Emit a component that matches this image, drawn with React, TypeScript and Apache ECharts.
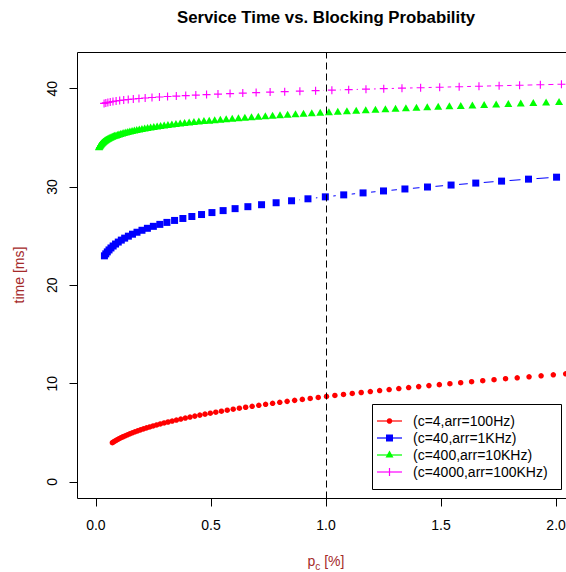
import React, { useEffect, useRef } from "react";
import * as echarts from "echarts";

// Service time (ms) against blocking probability p_c (%) for four server / arrival configurations.
const c4Time = [4.0, 4.1, 4.2, 4.3, 4.4, 4.5, 4.6, 4.7, 4.8, 4.9, 5.0, 5.1, 5.2, 5.3, 5.4, 5.5, 5.6, 5.7, 5.8, 5.9, 6.0, 6.1, 6.2, 6.3, 6.4, 6.5, 6.6, 6.7, 6.8, 6.9, 7.0, 7.1, 7.2, 7.3, 7.4, 7.5, 7.6, 7.7, 7.8, 7.9, 8.0, 8.1, 8.2, 8.3, 8.4, 8.5, 8.6, 8.7, 8.8, 8.9, 9.0, 9.1, 9.2, 9.3, 9.4, 9.5, 9.6, 9.7, 9.8, 9.9, 10.0, 10.1, 10.2, 10.3, 10.4, 10.5, 10.6, 10.7, 10.8, 10.9, 11.0];
const c4Pc = [0.0715, 0.0781, 0.0852, 0.0927, 0.1006, 0.109, 0.1178, 0.1271, 0.1369, 0.1472, 0.158, 0.1693, 0.1812, 0.1936, 0.2065, 0.22, 0.2341, 0.2488, 0.2641, 0.28, 0.2965, 0.3136, 0.3314, 0.3498, 0.3688, 0.3885, 0.4089, 0.4299, 0.4517, 0.4741, 0.4972, 0.521, 0.5455, 0.5708, 0.5967, 0.6234, 0.6508, 0.679, 0.7079, 0.7375, 0.7679, 0.7991, 0.831, 0.8637, 0.8971, 0.9314, 0.9663, 1.0021, 1.0386, 1.076, 1.1141, 1.153, 1.1926, 1.2331, 1.2744, 1.3164, 1.3592, 1.4028, 1.4473, 1.4925, 1.5385, 1.5853, 1.6328, 1.6812, 1.7303, 1.7803, 1.831, 1.8825, 1.9348, 1.9879, 2.0417];

const c40Time = [23.0, 23.2, 23.4, 23.6, 23.8, 24.0, 24.2, 24.4, 24.6, 24.8, 25.0, 25.2, 25.4, 25.6, 25.8, 26.0, 26.2, 26.4, 26.6, 26.8, 27.0, 27.2, 27.4, 27.6, 27.8, 28.0, 28.2, 28.4, 28.6, 28.8, 29.0, 29.2, 29.4, 29.6, 29.8, 30.0, 30.2, 30.4, 30.6, 30.8, 31.0];
const c40Pc = [0.0371, 0.0429, 0.0495, 0.057, 0.0654, 0.0749, 0.0854, 0.0972, 0.1104, 0.125, 0.1411, 0.1589, 0.1786, 0.2002, 0.2238, 0.2497, 0.2779, 0.3086, 0.3419, 0.378, 0.417, 0.4591, 0.5043, 0.5529, 0.6049, 0.6605, 0.7199, 0.7832, 0.8503, 0.9216, 0.9971, 1.077, 1.1611, 1.2499, 1.343, 1.441, 1.5436, 1.6509, 1.763, 1.88, 2.002];

const c400Time = [34.0, 34.05, 34.1, 34.15, 34.2, 34.25, 34.3, 34.35, 34.4, 34.45, 34.5, 34.55, 34.6, 34.65, 34.7, 34.75, 34.8, 34.85, 34.9, 34.95, 35.0, 35.05, 35.1, 35.15, 35.2, 35.25, 35.3, 35.35, 35.4, 35.45, 35.5, 35.55, 35.6, 35.65, 35.7, 35.75, 35.8, 35.85, 35.9, 35.95, 36.0, 36.05, 36.1, 36.15, 36.2, 36.25, 36.3, 36.35, 36.4, 36.45, 36.5, 36.55, 36.6, 36.65, 36.7, 36.75, 36.8, 36.85, 36.9, 36.95, 37.0, 37.05, 37.1, 37.15, 37.2, 37.25, 37.3, 37.35, 37.4, 37.45, 37.5, 37.55, 37.6, 37.65, 37.7, 37.75, 37.8, 37.85, 37.9, 37.95, 38.0, 38.05, 38.1, 38.15, 38.2, 38.25, 38.3, 38.35, 38.4, 38.45, 38.5, 38.55, 38.6];
const c400Pc = [0.01334, 0.01457, 0.0159, 0.01732, 0.01887, 0.02053, 0.02232, 0.02425, 0.02632, 0.02854, 0.03093, 0.03349, 0.03622, 0.03916, 0.04229, 0.04564, 0.04921, 0.05302, 0.05708, 0.0614, 0.06599, 0.07087, 0.07605, 0.08155, 0.08737, 0.09354, 0.10007, 0.10697, 0.11425, 0.12195, 0.13007, 0.13862, 0.14762, 0.15709, 0.16704, 0.1775, 0.18847, 0.19997, 0.21202, 0.22464, 0.23784, 0.25165, 0.26606, 0.2811, 0.29678, 0.31314, 0.33016, 0.34789, 0.36631, 0.38547, 0.40534, 0.42599, 0.44737, 0.46957, 0.4925, 0.51629, 0.54083, 0.56625, 0.59244, 0.61953, 0.64742, 0.67624, 0.70582, 0.73639, 0.76774, 0.80007, 0.8332, 0.86733, 0.90224, 0.93821, 0.97494, 1.01272, 1.05126, 1.09088, 1.13124, 1.17269, 1.21487, 1.25817, 1.30217, 1.3473, 1.39309, 1.44004, 1.48761, 1.53637, 1.58571, 1.63622, 1.68733, 1.73957, 1.79242, 1.8464, 1.90092, 1.95661, 2.01283];

const c4000Time = [38.5, 38.55, 38.6, 38.65, 38.7, 38.75, 38.8, 38.85, 38.9, 38.95, 39.0, 39.05, 39.1, 39.15, 39.2, 39.25, 39.3, 39.35, 39.4, 39.45, 39.5, 39.55, 39.6, 39.65, 39.7, 39.75, 39.8, 39.85, 39.9, 39.95, 40.0, 40.05, 40.1, 40.15, 40.2, 40.25, 40.3, 40.35, 40.4, 40.45];
const c4000Pc = [0.03552, 0.0431, 0.05196, 0.06226, 0.07415, 0.08777, 0.10328, 0.12083, 0.14055, 0.16258, 0.18707, 0.21409, 0.24376, 0.27616, 0.31137, 0.34942, 0.39035, 0.43418, 0.48092, 0.53055, 0.58303, 0.63832, 0.69638, 0.75714, 0.82051, 0.88642, 0.95478, 1.02555, 1.09856, 1.17371, 1.25097, 1.33018, 1.41123, 1.49403, 1.57874, 1.6648, 1.75236, 1.84135, 1.9316, 2.02328];

const seriesNames = ["(c=4,arr=100Hz)", "(c=40,arr=1KHz)", "(c=400,arr=10KHz)", "(c=4000,arr=100KHz)"];
const xTicks = [0, 0.5, 1.0, 1.5, 2.0];
const yTicks = [0, 10, 20, 30, 40];
const thresholdPc = 1.0;

const FONT = "'Liberation Sans', Arial, Helvetica, sans-serif";
const LABEL_RED = "#A52A2A";
const COLORS = ["#FF0000", "#0000FF", "#00FF00", "#FF00FF"];
const PLUS = "path://M3,0H4V3H7V4H4V7H3V4H0V3H3Z";
const SYMBOLS: any[] = ["circle", "rect", "triangle", PLUS];
const SYMBOL_SIZES: any[] = [5.5, 7, [8, 7], 8];
const SYMBOL_OFFSETS: any[] = [[0, 0], [0, 0], [0, -1], [0, 0]];
// gap (px) left around each point by the connecting segments
const GAP = 8;

const groups = [
  { pc: c4Pc, t: c4Time },
  { pc: c40Pc, t: c40Time },
  { pc: c400Pc, t: c400Time },
  { pc: c4000Pc, t: c4000Time },
];

function segmentRenderer(color: string) {
  return (_params: any, api: any) => {
    const p0 = api.coord([api.value(2), api.value(3)]);
    const p1 = api.coord([api.value(0), api.value(1)]);
    const dx = p1[0] - p0[0];
    const dy = p1[1] - p0[1];
    const d = Math.hypot(dx, dy);
    if (d <= 2 * GAP) return null;
    const ux = dx / d;
    const uy = dy / d;
    return {
      type: "line",
      shape: {
        x1: p0[0] + ux * GAP,
        y1: p0[1] + uy * GAP,
        x2: p1[0] - ux * GAP,
        y2: p1[1] - uy * GAP,
      },
      style: { stroke: color, lineWidth: 1 },
    };
  };
}

function legendGraphic() {
  const left = 372;
  const top = 404;
  const width = 189;
  const height = 85;
  const children: any[] = [
    {
      type: "rect",
      shape: { x: left + 0.5, y: top + 0.5, width, height },
      style: { fill: "#fff", stroke: "#000", lineWidth: 1 },
    },
  ];
  seriesNames.forEach((name, i) => {
    const cy = 421 + i * 17;
    const cx = 389.5;
    const color = COLORS[i];
    children.push({
      type: "line",
      shape: { x1: 377, y1: cy, x2: 402, y2: cy },
      style: { stroke: color, lineWidth: 1.2 },
    });
    if (i === 0) {
      children.push({ type: "circle", shape: { cx, cy, r: 2.75 }, style: { fill: color } });
    } else if (i === 1) {
      children.push({ type: "rect", shape: { x: cx - 3.5, y: cy - 3.5, width: 7, height: 7 }, style: { fill: color } });
    } else if (i === 2) {
      children.push({
        type: "polygon",
        shape: { points: [[cx, cy - 4.5], [cx + 4, cy + 2.5], [cx - 4, cy + 2.5]] },
        style: { fill: color },
      });
    } else {
      children.push({ type: "line", shape: { x1: cx, y1: cy - 4, x2: cx, y2: cy + 4 }, style: { stroke: color, lineWidth: 1.2 } });
    }
    children.push({
      type: "text",
      x: 413,
      y: cy,
      style: {
        text: name,
        fill: "#000",
        font: `14px ${FONT}`,
        verticalAlign: "middle",
        align: "left",
      },
    });
  });
  return { type: "group", children, z: 100 };
}

export default function App() {
  const ref = useRef<HTMLDivElement>(null);

  useEffect(() => {
    document.body.style.margin = "0";
    if (!ref.current) return;
    const chart = echarts.init(ref.current, undefined, { renderer: "svg" });

    const series: any[] = [];
    groups.forEach((g, i) => {
      const segs = g.pc.slice(1).map((v, k) => [v, g.t[k + 1], g.pc[k], g.t[k]]);
      series.push({
        type: "custom",
        name: seriesNames[i] + " line",
        silent: true,
        clip: true,
        renderItem: segmentRenderer(COLORS[i]),
        encode: { x: [0, 2], y: [1, 3] },
        data: segs,
        z: 2,
      });
      series.push({
        type: "scatter",
        name: seriesNames[i],
        silent: true,
        symbol: SYMBOLS[i],
        symbolSize: SYMBOL_SIZES[i],
        symbolOffset: SYMBOL_OFFSETS[i],
        itemStyle: { color: COLORS[i], opacity: 1 },
        data: g.pc.map((v, k) => [v, g.t[k]]),
        z: 2,
      });
    });
    series[1].markLine = {
      silent: true,
      symbol: ["none", "none"],
      label: { show: false },
      lineStyle: { color: "#000", type: [7, 4], width: 1 },
      data: [{ xAxis: thresholdPc }],
      z: 5,
    };

    chart.setOption({
      animation: false,
      grid: {
        left: 77.5,
        top: 52.5,
        width: 497,
        height: 446,
        show: true,
        borderColor: "#000",
        borderWidth: 1,
        backgroundColor: "transparent",
        containLabel: false,
        outerBoundsMode: "none",
      },
      xAxis: {
        type: "value",
        min: -0.08,
        max: 2.08,
        axisLine: { show: false, onZero: false },
        splitLine: { show: false },
        axisTick: { show: true, inside: false, length: 8, customValues: xTicks, lineStyle: { color: "#000" } },
        axisLabel: {
          customValues: xTicks,
          formatter: (v: number) => v.toFixed(1),
          color: "#000",
          fontSize: 14,
          fontFamily: FONT,
          margin: 19,
        },
      },
      yAxis: {
        type: "value",
        min: -1.68,
        max: 43.68,
        axisLine: { show: false, onZero: false },
        splitLine: { show: false },
        axisTick: { show: true, inside: false, length: 8, customValues: yTicks, lineStyle: { color: "#000" } },
        axisLabel: {
          customValues: yTicks,
          formatter: (v: number) => String(v),
          rotate: 90,
          color: "#000",
          fontSize: 14,
          fontFamily: FONT,
          margin: 19,
        },
      },
      graphic: [
        {
          type: "text",
          x: 326,
          y: 17,
          style: {
            text: "Service Time vs. Blocking Probability",
            fill: "#000",
            font: `bold 16.8px ${FONT}`,
            align: "center",
            verticalAlign: "middle",
          },
        },
        {
          type: "text",
          x: 19,
          y: 275,
          rotation: Math.PI / 2,
          style: {
            text: "time [ms]",
            fill: LABEL_RED,
            font: `14px ${FONT}`,
            align: "center",
            verticalAlign: "middle",
          },
        },
        {
          type: "text",
          x: 326,
          y: 560,
          style: {
            text: "{p|p}{s|c}{p| [%]}",
            align: "center",
            verticalAlign: "middle",
            rich: {
              p: { fontSize: 14, fontFamily: FONT, fill: LABEL_RED, verticalAlign: "bottom", lineHeight: 16 },
              s: { fontSize: 10, fontFamily: FONT, fill: LABEL_RED, verticalAlign: "bottom", lineHeight: 16, padding: [0, 0, -3, 0] },
            },
          },
        },
        legendGraphic(),
      ],
      series,
    });

    return () => chart.dispose();
  }, []);

  return (
    <div
      ref={ref}
      style={{ position: "absolute", left: 0, top: 0, width: 566, height: 572 }}
    />
  );
}
